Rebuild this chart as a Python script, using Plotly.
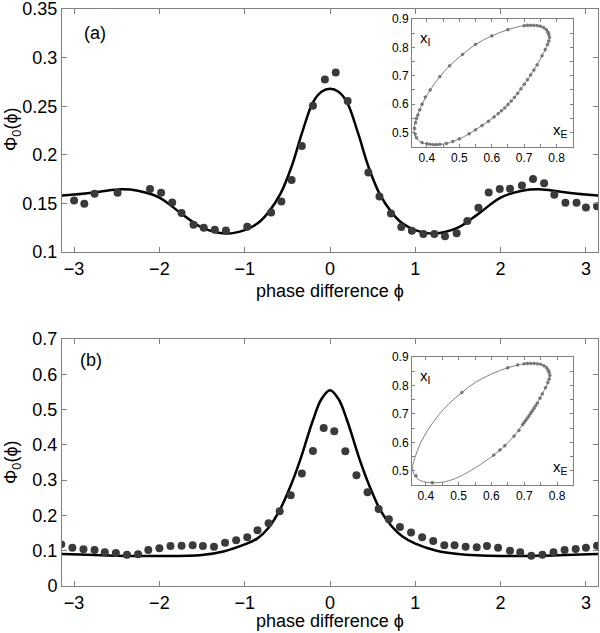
import plotly.graph_objects as go
import math

# ---------------- data ----------------
# panel (a) simulation points
a_phi = [-3.00, -2.88, -2.76, -2.49, -2.11, -1.98, -1.85, -1.74, -1.60, -1.48, -1.35, -1.22,
         -0.97, -0.69, -0.57, -0.45, -0.33, -0.20, -0.06, 0.067, 0.207, 0.45, 0.58, 0.715,
         0.836, 0.96, 1.094, 1.223, 1.348, 1.485, 1.61, 1.74, 1.86, 1.99, 2.11, 2.25, 2.38,
         2.51, 2.63, 2.76, 2.89, 3.00, 3.13]
a_val = [0.153, 0.1496, 0.160, 0.161, 0.1647, 0.161, 0.151, 0.140, 0.128, 0.125, 0.123, 0.122,
         0.126, 0.1407, 0.152, 0.174, 0.209, 0.2506, 0.2776, 0.2848, 0.2554, 0.1818, 0.157, 0.1397,
         0.1257, 0.1219, 0.1185, 0.1185, 0.1161, 0.1192, 0.132, 0.1455, 0.1613, 0.1647, 0.165, 0.1685, 0.175,
         0.1708, 0.159, 0.1506, 0.1506, 0.1459, 0.147]

# panel (a) theory curve
a_curve_phi = [-3.1416, -2.9, -2.7, -2.45, -2.25, -2.0, -1.75, -1.5, -1.22, -1.0, -0.84, -0.72,
               -0.58, -0.45, -0.33, -0.2, -0.1, 0.0, 0.1, 0.2, 0.33, 0.45, 0.58, 0.72, 0.84,
               1.0, 1.22, 1.5, 1.75, 2.0, 2.25, 2.45, 2.7, 2.9, 3.1416]
a_curve_val = [0.158, 0.160, 0.162, 0.1645, 0.163, 0.156, 0.140, 0.125, 0.119, 0.1225, 0.130, 0.141,
               0.160, 0.188, 0.222, 0.254, 0.265, 0.268, 0.265, 0.254, 0.222, 0.188, 0.160, 0.141, 0.130,
               0.1225, 0.119, 0.125, 0.140, 0.156, 0.163, 0.1645, 0.162, 0.160, 0.158]

# panel (b) simulation points
b_phi = [-3.15, -3.02, -2.89, -2.76, -2.64, -2.51, -2.38, -2.25, -2.13, -2.00, -1.87, -1.74,
         -1.61, -1.49, -1.36, -1.23, -1.10, -0.97, -0.85, -0.72, -0.59, -0.46, -0.33, -0.20,
         -0.074, 0.05, 0.18, 0.31, 0.44, 0.57, 0.69, 0.82, 0.95, 1.08, 1.21, 1.34, 1.46, 1.59,
         1.72, 1.84, 1.97, 2.11, 2.23, 2.36, 2.49, 2.62, 2.75, 2.88, 3.00, 3.13]
b_val = [0.118, 0.1085, 0.104, 0.102, 0.0954, 0.0935, 0.0887, 0.0898, 0.102, 0.1068, 0.1133, 0.1142,
         0.1153, 0.1133, 0.1113, 0.1227, 0.130, 0.138, 0.1578, 0.1776, 0.2116, 0.257, 0.319, 0.383,
         0.4476, 0.439, 0.382, 0.314, 0.266, 0.218, 0.189, 0.167, 0.152, 0.138, 0.1275, 0.1153, 0.1153, 0.1113,
         0.1096, 0.1133, 0.1085, 0.100, 0.0954, 0.0858, 0.0887, 0.0954, 0.102, 0.1048, 0.1085, 0.114]

# panel (b) theory curve
b_curve_phi = [-3.1416, -2.5, -2.0, -1.5, -1.25, -1.0, -0.85, -0.72, -0.59, -0.46, -0.35, -0.2,
               -0.1, 0.0, 0.1, 0.2, 0.35, 0.46, 0.59, 0.72, 0.85, 1.0, 1.25, 1.5, 2.0, 2.5, 3.1416]
b_curve_val = [0.0907, 0.086, 0.085, 0.088, 0.098, 0.118, 0.135, 0.165, 0.215, 0.285, 0.357, 0.470,
               0.530, 0.555, 0.530, 0.470, 0.357, 0.285, 0.215, 0.170, 0.140, 0.120, 0.100, 0.0907, 0.085, 0.086, 0.0907]

# limit cycle (x_E, x_I) for insets
loop_xe = [0.42, 0.46, 0.50, 0.55, 0.607, 0.64, 0.67, 0.70, 0.73, 0.755, 0.772, 0.778, 0.772, 0.755,
           0.73, 0.70, 0.65, 0.60, 0.55, 0.51, 0.47, 0.44, 0.41, 0.385, 0.368, 0.360, 0.366, 0.385, 0.42]
loop_xi = [0.458, 0.462, 0.478, 0.51, 0.555, 0.587, 0.624, 0.67, 0.72, 0.77, 0.81, 0.835, 0.86, 0.873,
           0.877, 0.876, 0.862, 0.84, 0.81, 0.775, 0.735, 0.697, 0.65, 0.60, 0.55, 0.515, 0.483, 0.465, 0.458]

# oscillator states in inset (a)
ia_xe = [0.70, 0.71, 0.72, 0.73, 0.74, 0.75, 0.76, 0.768, 0.773, 0.776, 0.778, 0.776, 0.772, 0.765,
         0.65, 0.60, 0.55, 0.51, 0.47, 0.44,
         0.41, 0.395, 0.385, 0.378, 0.372, 0.368, 0.365, 0.362, 0.364, 0.368,
         0.385, 0.40, 0.41, 0.42, 0.43, 0.44, 0.46, 0.48, 0.50, 0.53,
         0.55, 0.57, 0.59, 0.607, 0.62, 0.63, 0.64, 0.65, 0.66, 0.67, 0.68, 0.69, 0.70, 0.71,
         0.72, 0.73, 0.74, 0.755]
ia_xi = [0.876, 0.877, 0.877, 0.877, 0.876, 0.874, 0.869, 0.862, 0.853, 0.845, 0.835, 0.822, 0.81, 0.792,
         0.862, 0.84, 0.81, 0.775, 0.735, 0.697,
         0.65, 0.625, 0.60, 0.58, 0.562, 0.55, 0.535, 0.515, 0.495, 0.482,
         0.465, 0.461, 0.459, 0.458, 0.458, 0.459, 0.462, 0.469, 0.478, 0.496,
         0.51, 0.525, 0.54, 0.555, 0.567, 0.577, 0.587, 0.599, 0.611, 0.624, 0.638, 0.654, 0.67, 0.686,
         0.703, 0.72, 0.738, 0.77]

# oscillator states in inset (b)
ib_xe = [0.37, 0.42, 0.51, 0.607, 0.626, 0.641, 0.669, 0.684, 0.65, 0.68, 0.70, 0.71,
         0.72, 0.73, 0.74, 0.75, 0.76, 0.768, 0.773, 0.776, 0.778, 0.776, 0.772, 0.765,
         0.755, 0.748, 0.74, 0.735, 0.73, 0.725, 0.72, 0.715, 0.71, 0.705, 0.70, 0.695]
ib_xi = [0.482, 0.458, 0.775, 0.555, 0.573, 0.588, 0.622, 0.642, 0.862, 0.872, 0.876, 0.877,
         0.877, 0.877, 0.876, 0.874, 0.869, 0.862, 0.853, 0.845, 0.835, 0.822, 0.81, 0.792,
         0.77, 0.755, 0.738, 0.729, 0.72, 0.711, 0.703, 0.694, 0.686, 0.678, 0.67, 0.662]

phi_ticks = [-3, -2, -1, 0, 1, 2, 3]
ya_ticks = [0.1, 0.15, 0.2, 0.25, 0.3, 0.35]
ya_labels = ["0.1", "0.15", "0.2", "0.25", "0.3", "0.35"]
yb_ticks = [0, 0.1, 0.2, 0.3, 0.4, 0.5, 0.6, 0.7]
yb_labels = ["0", "0.1", "0.2", "0.3", "0.4", "0.5", "0.6", "0.7"]
inset_x_ticks = [0.4, 0.5, 0.6, 0.7, 0.8]
inset_y_ticks = [0.5, 0.6, 0.7, 0.8, 0.9]

# ---------------- figure ----------------
FONT = "Liberation Sans, Arial, Helvetica, sans-serif"
DOT = "#3a3a3a"
PHI = "\u03d5"
fig = go.Figure()

fig.add_trace(go.Scatter(x=a_curve_phi, y=a_curve_val, mode="lines", line=dict(color="black", width=2.5, shape="spline"),
                         xaxis="x", yaxis="y"))
fig.add_trace(go.Scatter(x=a_phi, y=a_val, mode="markers", marker=dict(color=DOT, size=8),
                         xaxis="x", yaxis="y"))
fig.add_trace(go.Scatter(x=b_curve_phi, y=b_curve_val, mode="lines", line=dict(color="black", width=2.5, shape="spline"),
                         xaxis="x2", yaxis="y2"))
fig.add_trace(go.Scatter(x=b_phi, y=b_val, mode="markers", marker=dict(color=DOT, size=8),
                         xaxis="x2", yaxis="y2"))

# insets
for xa, ya, pxs, pys in [("x3", "y3", ia_xe, ia_xi), ("x4", "y4", ib_xe, ib_xi)]:
    fig.add_trace(go.Scatter(x=loop_xe, y=loop_xi, mode="lines",
                             line=dict(color="#808080", width=1, shape="spline", smoothing=1.0),
                             xaxis=xa, yaxis=ya))
    fig.add_trace(go.Scatter(x=pxs, y=pys, mode="markers",
                             marker=dict(color="#808080", size=2.8, line=dict(color="#505050", width=0.5)),
                             xaxis=xa, yaxis=ya))

main_ax = dict(showgrid=False, zeroline=False, showline=True, mirror="ticks", linecolor="#808080",
               linewidth=1, ticks="inside", ticklen=5, tickcolor="#808080", automargin=False,
               ticklabeloverflow="allow",
               tickfont=dict(family=FONT, size=18, color="black"))
inset_ax = dict(showgrid=False, zeroline=False, showline=True, mirror="ticks", linecolor="#808080",
                linewidth=1, ticks="inside", ticklen=3, tickcolor="#808080", automargin=False,
                ticklabeloverflow="allow",
                tickfont=dict(family=FONT, size=12, color="black"),
                minor=dict(ticks="inside", ticklen=3, tickcolor="#808080", dtick=0.05))

PI = math.pi
fig.update_layout(
    width=600, height=633, showlegend=False,
    paper_bgcolor="white", plot_bgcolor="white",
    margin=dict(l=62, r=2, t=9, b=47),
    xaxis=dict(main_ax, domain=[0, 1], range=[-PI, PI], tickvals=phi_ticks, anchor="y"),
    yaxis=dict(main_ax, domain=[0.5789, 1.0], range=[0.1, 0.3501], tickvals=ya_ticks, ticktext=ya_labels, anchor="x"),
    xaxis2=dict(main_ax, domain=[0, 1], range=[-PI, PI], tickvals=phi_ticks, anchor="y2"),
    yaxis2=dict(main_ax, domain=[0, 0.428], range=[0, 0.7001], tickvals=yb_ticks, ticktext=yb_labels, anchor="x2"),
    xaxis3=dict(inset_ax, domain=[0.653, 0.953], range=[0.354, 0.850], tickvals=inset_x_ticks, anchor="y3"),
    yaxis3=dict(inset_ax, domain=[0.761, 0.983], range=[0.45, 0.9001], tickvals=inset_y_ticks, anchor="x3"),
    xaxis4=dict(inset_ax, domain=[0.653, 0.953], range=[0.358, 0.848], tickvals=inset_x_ticks, anchor="y4"),
    yaxis4=dict(inset_ax, domain=[0.175, 0.397], range=[0.45, 0.9001], tickvals=inset_y_ticks, anchor="x4"),
)

ann = []
def txt(text, x, y, size, angle=0):
    ann.append(dict(text=text, x=x, y=y, xref="paper", yref="paper", showarrow=False, textangle=angle,
                    font=dict(family=FONT, size=size, color="black"), xanchor="center", yanchor="middle"))

# convert pixel positions to paper coords
def px(xp):
    return (xp - 62) / 536
def py(yp):
    return (586 - yp) / 577

txt("(a)", px(95), py(33), 18)
txt("(b)", px(91), py(360), 18)
txt("phase difference " + PHI, px(330), py(291), 18)
txt("phase difference " + PHI, px(330), py(621), 18)
txt("\u03a6<sub>0</sub>(" + PHI + ")", px(12), py(130), 18, angle=-90)
txt("\u03a6<sub>0</sub>(" + PHI + ")", px(12), py(463), 18, angle=-90)
txt("x<sub>I</sub>", px(425), py(38), 15)
txt("x<sub>E</sub>", px(560), py(130), 15)
txt("x<sub>I</sub>", px(425), py(376), 15)
txt("x<sub>E</sub>", px(560), py(467), 15)
fig.update_layout(annotations=ann)

fig.write_html("out.html", config={"displayModeBar": False},
               post_script="document.body.style.margin='0px';document.body.style.overflow='hidden';")
